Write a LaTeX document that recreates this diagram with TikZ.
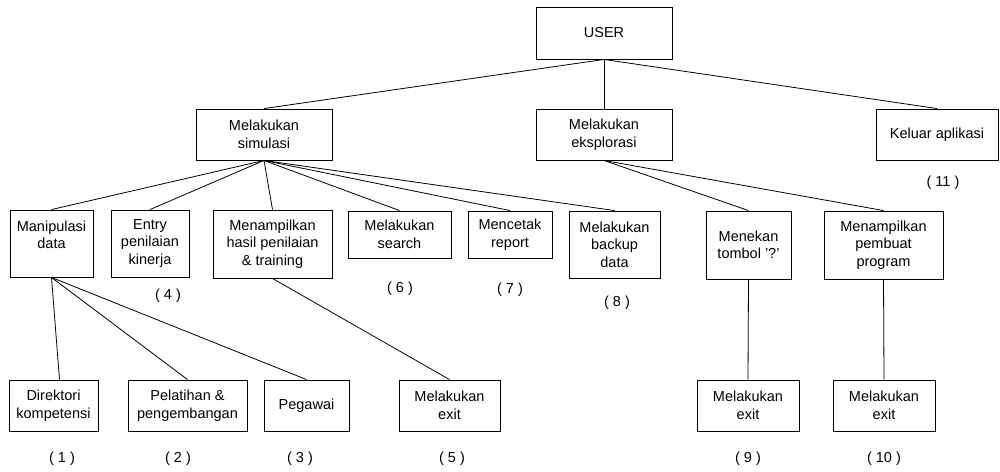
\documentclass[tikz,border=0pt]{standalone}
\usepackage{fontspec}
\setmainfont{Liberation Sans}
\tikzset{
  box/.style={draw, line width=0.9pt, align=center, inner sep=0pt, font=\fontsize{14.5}{17.5}\selectfont},
  lbl/.style={inner sep=0pt, font=\fontsize{14.5}{17.5}\selectfont},
  conn/.style={line width=0.8pt}
}
\newcommand\bx[6]{\node[box, minimum width={(#4-#2)*1pt}, minimum height={(#5-#3)*1pt}] (#1) at ({(#2+#4)/2},{(#3+#5)/2}) {#6};}
\begin{document}
\begin{tikzpicture}[x=1pt,y=-1pt]
\useasboundingbox (0,0) rectangle (1000,471);
% level 0
\bx{user}{536}{7}{672}{59}{USER}
% level 1
\bx{sim}{196}{109}{332}{160}{Melakukan\\simulasi}
\bx{eks}{536}{109}{672}{160}{Melakukan\\eksplorasi}
\bx{kel}{876}{109}{998}{160}{Keluar aplikasi}
% level 2
\bx{man}{10}{210}{93}{277}{Manipulasi\\data\\\mbox{}}
\bx{ent}{111}{210}{189}{277}{Entry\\penilaian\\kinerja}
\bx{tam}{213}{210}{332}{278}{Menampilkan\\hasil penilaian\\\& training}
\bx{sea}{348}{211}{451}{258}{Melakukan\\search}
\bx{rep}{468}{211}{552}{258}{Mencetak\\report}
\bx{bak}{569}{211}{660}{278}{Melakukan\\backup\\data}
\bx{tom}{706}{211}{791}{279}{Menekan\\tombol '?'}
\bx{pem}{824}{211}{943}{279}{Menampilkan\\pembuat\\program}
% level 3
\bx{dir}{9}{380}{98}{431}{Direktori\\kompetensi}
\bx{pel}{128}{380}{247}{431}{Pelatihan \&\\pengembangan}
\bx{peg}{264}{380}{349}{431}{Pegawai}
\bx{ex5}{399}{380}{500}{431}{Melakukan\\exit}
\bx{ex9}{697}{380}{799}{431}{Melakukan\\exit}
\bx{ex10}{833}{380}{935}{431}{Melakukan\\exit}
% labels
\node[lbl] (n1) at (62,459) {( 1 )};
\node[lbl] (n2) at (178,459) {( 2 )};
\node[lbl] (n3) at (300,459) {( 3 )};
\node[lbl] (n4) at (168,296) {( 4 )};
\node[lbl] (n5) at (452,459) {( 5 )};
\node[lbl] (n6) at (400,289) {( 6 )};
\node[lbl] (n7) at (510,290) {( 7 )};
\node[lbl] (n8) at (617,303) {( 8 )};
\node[lbl] (n9) at (748,459) {( 9 )};
\node[lbl] (n10) at (884,459) {( 10 )};
\node[lbl] (n11) at (943,183) {( 11 )};
% connectors
\draw[conn] (user.south) -- (sim.north);
\draw[conn] (user.south) -- (eks.north);
\draw[conn] (user.south) -- (kel.north);
\foreach \c in {man,ent,tam,sea,rep,bak} \draw[conn] (sim.south) -- (\c.north);
\draw[conn] (eks.south) -- (tom.north);
\draw[conn] (eks.south) -- (pem.north);
\draw[conn] (man.south) -- ([xshift=6pt]dir.north);
\draw[conn] (man.south) -- (pel.north);
\draw[conn] (man.south) -- (peg.north);
\draw[conn] (tam.south) -- (ex5.north);
\draw[conn] (tom.south) -- (ex9.north);
\draw[conn] (pem.south) -- (ex10.north);
\end{tikzpicture}
\end{document}
